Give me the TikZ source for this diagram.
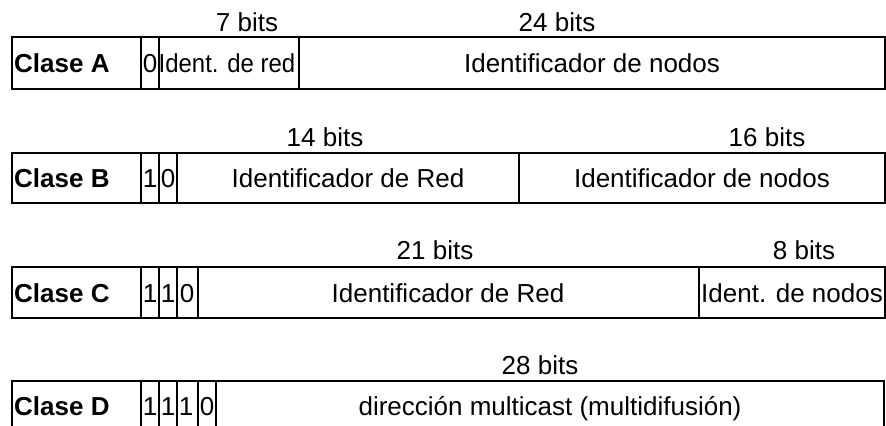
\documentclass[tikz,border=0pt]{standalone}
\usepackage{fontspec}
\setmainfont{Liberation Sans}
\begin{document}
\begin{tikzpicture}[x=0.5pt, y=-0.5pt, line width=1.2pt,
	every node/.style={inner sep=0pt, font=\fontsize{13}{15}\selectfont},
	clase/.style={anchor=base west, font=\fontsize{13}{15}\selectfont\bfseries},
	campo/.style={anchor=base}]
	\useasboundingbox (0,0) rectangle (886,425);
	\clip (0,0) rectangle (886,425);
	% Clase A
	\draw (12,37) rectangle (885,89);
	\foreach \x in {141,159,299} \draw (\x,37) -- (\x,89);
	\node[clase] (claseA) at (13,72) {Clase A};
	\node[campo] (bitA1) at (150,72) {0};
	\node[campo] (redA) at (227,72) {\scalebox{0.92}[1]{Ident. de red}};
	\node[campo] (nodosA) at (592,72) {Identificador de nodos};
	\node[campo] (anchoA1) at (247,31) {7 bits};
	\node[campo] (anchoA2) at (557,31) {24 bits};
	% Clase B
	\draw (12,153) rectangle (885,203);
	\foreach \x in {141,159,177,519} \draw (\x,153) -- (\x,203);
	\node[clase] (claseB) at (13,187) {Clase B};
	\node[campo] (bitB1) at (150,187) {1};
	\node[campo] (bitB2) at (168,187) {0};
	\node[campo] (redB) at (348,187) {Identificador de Red};
	\node[campo] (nodosB) at (702,187) {Identificador de nodos};
	\node[campo] (anchoB1) at (325,146) {14 bits};
	\node[campo] (anchoB2) at (767,146) {16 bits};
	% Clase C
	\draw (12,267) rectangle (885,318);
	\foreach \x in {141,159,177,198,699} \draw (\x,267) -- (\x,318);
	\node[clase] (claseC) at (13,302) {Clase C};
	\node[campo] (bitC1) at (150,302) {1};
	\node[campo] (bitC2) at (168,302) {1};
	\node[campo] (bitC3) at (187,302) {0};
	\node[campo] (redC) at (448,302) {Identificador de Red};
	\node[campo] (nodosC) at (792,302) {Ident. de nodos};
	\node[campo] (anchoC1) at (435,259) {21 bits};
	\node[campo] (anchoC2) at (804,259) {8 bits};
	% Clase D
	\draw (12,381) rectangle (884,432);
	\foreach \x in {141,159,177,198,216} \draw (\x,381) -- (\x,432);
	\node[clase] (claseD) at (13,415) {Clase D};
	\node[campo] (bitD1) at (150,415) {1};
	\node[campo] (bitD2) at (168,415) {1};
	\node[campo] (bitD3) at (186,415) {1};
	\node[campo] (bitD4) at (207,415) {0};
	\node[campo] (multiD) at (550,415) {dirección multicast (multidifusión)};
	\node[campo] (anchoD1) at (540,374) {28 bits};
\end{tikzpicture}
\end{document}
